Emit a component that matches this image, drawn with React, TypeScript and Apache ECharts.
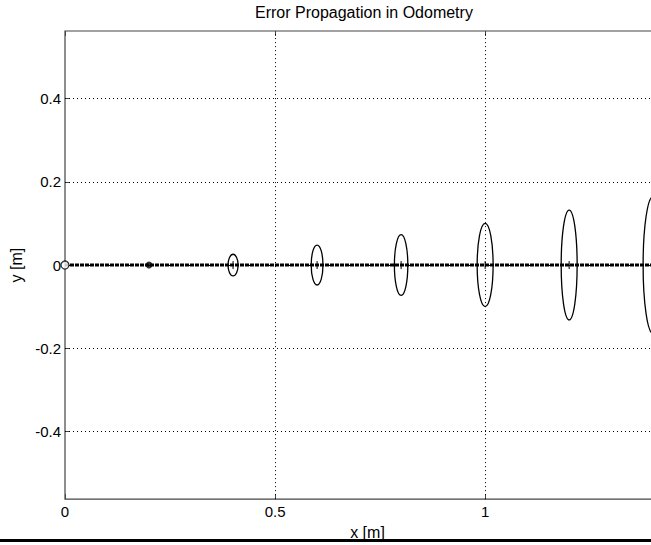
import React, { useEffect, useRef } from "react";
import * as echarts from "echarts";

const titleText = "Error Propagation in Odometry";
const xTicks = [0, 0.5, 1];
const yTicks = [-0.4, -0.2, 0, 0.2, 0.4];
const trajX = [0, 1.44];
const trajY = [0, 0];
const startPoint = [0, 0];
const firstPoint = [0.2, 0];
const ellipseX = [0.4, 0.6, 0.8, 1.0, 1.2, 1.4];
const ellipseRx = [0.012, 0.014, 0.016, 0.019, 0.019, 0.024];
const ellipseRy = [0.026, 0.048, 0.073, 0.1, 0.132, 0.165];

const FONT = "Liberation Sans, Arial, Helvetica, sans-serif";

export default function App() {
  const ref = useRef<HTMLDivElement>(null);
  useEffect(() => {
    if (!ref.current) return;
    const chart = echarts.init(ref.current, null, { renderer: "svg" });
    const gridLine = { color: "#000", width: 1, type: [1, 3] as any };
    const option: any = {
      animation: false,
      backgroundColor: "#fff",
      title: {
        text: titleText,
        left: 255,
        top: 4,
        padding: 0,
        textStyle: { fontFamily: FONT, fontSize: 16, fontWeight: "normal", color: "#000" },
      },
      grid: {
        left: 65,
        top: 31,
        width: 605,
        height: 472,
        containLabel: false,
        show: true,
        borderColor: "#444",
        borderWidth: 1.2,
        backgroundColor: "transparent",
      },
      xAxis: [
        {
          type: "value",
          min: 0,
          max: 1.44,
          interval: 0.5,
          position: "bottom",
          name: "x [m]",
          nameLocation: "middle",
          nameGap: 24,
          nameTextStyle: { fontFamily: FONT, fontSize: 16, color: "#000" },
          axisLine: { show: false, onZero: false },
          axisTick: { show: true, inside: true, length: 5, lineStyle: { color: "#444" } },
          axisLabel: {
            fontFamily: FONT,
            fontSize: 15,
            color: "#000",
            margin: 5,
            customValues: xTicks,
            formatter: (v: number) => String(v),
          },
          splitLine: { show: false },
        },
        {
          type: "value",
          min: 0,
          max: 1.44,
          interval: 0.5,
          position: "top",
          axisLine: { show: false, onZero: false },
          axisTick: { show: true, inside: true, length: 5, lineStyle: { color: "#444" } },
          axisLabel: { show: false },
          splitLine: { show: false },
        },
      ],
      yAxis: [
        {
          type: "value",
          min: -0.5625,
          max: 0.5625,
          name: "y [m]",
          nameLocation: "middle",
          nameGap: 37,
          nameRotate: 90,
          nameTextStyle: { fontFamily: FONT, fontSize: 16, color: "#000" },
          axisLine: { show: false, onZero: false },
          axisTick: {
            show: true,
            inside: true,
            length: 5,
            customValues: yTicks,
            lineStyle: { color: "#444" },
          },
          axisLabel: {
            fontFamily: FONT,
            fontSize: 15,
            color: "#000",
            margin: 4,
            customValues: yTicks,
            formatter: (v: number) => String(v),
          },
          splitLine: { show: false },
        },
      ],
      series: [
        {
          type: "line",
          data: [],
          silent: true,
          markLine: {
            silent: true,
            symbol: "none",
            label: { show: false },
            lineStyle: gridLine,
            data: [
              ...xTicks.filter((v) => v !== 0).map((v) => ({ xAxis: v })),
              ...yTicks.map((v) => ({ yAxis: v })),
            ],
          },
        },
        {
          type: "line",
          data: trajX.map((x, i) => [x, trajY[i]]),
          symbol: "none",
          lineStyle: { color: "#000", width: 3, type: [4, 1] as any },
          z: 3,
        },
        {
          type: "custom",
          data: ellipseX.map((x, i) => [x, 0, ellipseRx[i], ellipseRy[i]]),
          encode: { x: 0, y: 1 },
          z: 4,
          renderItem: (params: any, api: any) => {
            const c = api.coord([api.value(0), api.value(1)]);
            const s = api.size([api.value(2), api.value(3)]);
            return {
              type: "group",
              children: [
                {
                  type: "ellipse",
                  shape: { cx: c[0], cy: c[1], rx: s[0], ry: s[1] },
                  style: { fill: "none", stroke: "#000", lineWidth: 1.3 },
                },
                {
                  type: "line",
                  shape: { x1: c[0], y1: c[1] - 4, x2: c[0], y2: c[1] + 4 },
                  style: { stroke: "#000", lineWidth: 1 },
                },
              ],
            };
          },
        },
        {
          type: "scatter",
          data: [startPoint],
          symbol: "circle",
          symbolSize: 8,
          itemStyle: { color: "#fff", borderColor: "#000", borderWidth: 1.3 },
          z: 5,
        },
        {
          type: "scatter",
          data: [firstPoint],
          symbol: "circle",
          symbolSize: 7,
          itemStyle: { color: "#000" },
          z: 5,
        },
      ],
      graphic: [
        {
          type: "rect",
          shape: { x: 0, y: 539, width: 700, height: 3 },
          style: { fill: "#000" },
          z: 100,
        },
      ],
    };
    chart.setOption(option);
    return () => chart.dispose();
  }, []);
  return (
    <div
      style={{
        position: "fixed",
        left: 0,
        top: 0,
        width: 651,
        height: 545,
        overflow: "hidden",
        background: "#fff",
      }}
    >
      <div ref={ref} style={{ width: 670, height: 545 }} />
    </div>
  );
}
